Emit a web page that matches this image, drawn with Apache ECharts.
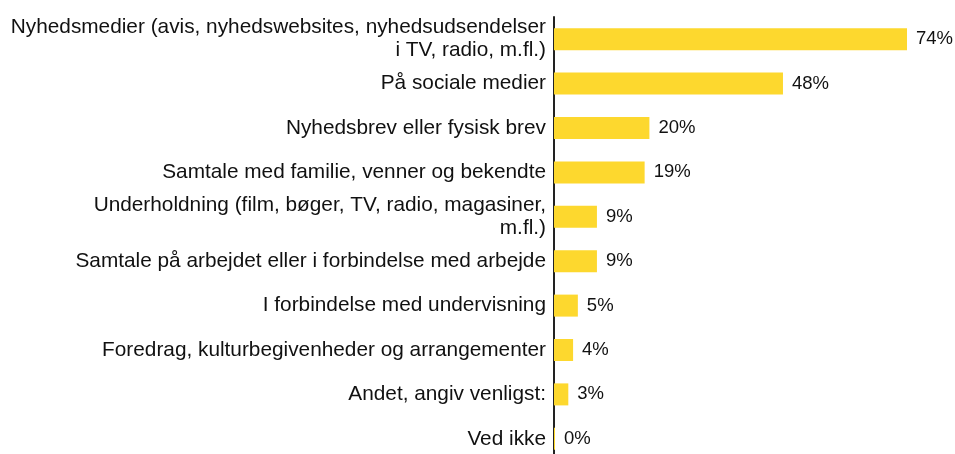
<!DOCTYPE html>
<html>
<head>
<meta charset="utf-8">
<script src="https://cdn.jsdelivr.net/npm/echarts@6/dist/echarts.min.js"></script>
<style>
  html, body { margin: 0; padding: 0; background: #fff; }
  #chart { width: 955px; height: 454px; }
</style>
</head>
<body>
<div id="chart"></div>
<script>
const categories = [
  'Nyhedsmedier (avis, nyhedswebsites, nyhedsudsendelser\ni TV, radio, m.fl.)',
  'På sociale medier',
  'Nyhedsbrev eller fysisk brev',
  'Samtale med familie, venner og bekendte',
  'Underholdning (film, bøger, TV, radio, magasiner,\nm.fl.)',
  'Samtale på arbejdet eller i forbindelse med arbejde',
  'I forbindelse med undervisning',
  'Foredrag, kulturbegivenheder og arrangementer',
  'Andet, angiv venligst:',
  'Ved ikke'
];
const values = [74, 48, 20, 19, 9, 9, 5, 4, 3, 0];

const myChart = echarts.init(document.getElementById('chart'));
const option = {
  animation: false,
  grid: {
    left: 554,
    right: 48,
    top: 17,
    height: 444,
    outerBoundsMode: 'none',
    containLabel: false
  },
  xAxis: {
    type: 'value',
    min: 0,
    max: 74,
    show: false
  },
  yAxis: {
    type: 'category',
    inverse: true,
    data: categories,
    axisLine: { show: true, lineStyle: { color: '#222', width: 2 } },
    axisTick: { show: false },
    axisLabel: {
      color: '#111',
      fontSize: 20.8,
      fontFamily: 'Liberation Sans, Arial, sans-serif',
      lineHeight: 23,
      align: 'right',
      margin: 8,
      padding: [5, 0, 0, 0]
    }
  },
  series: [
    {
      type: 'bar',
      data: values,
      barWidth: 22,
      barMinHeight: 1,
      itemStyle: { color: '#FDD82E' },
      label: {
        show: true,
        position: 'right',
        distance: 9,
        formatter: '{c}%',
        color: '#111',
        fontSize: 18.5,
        fontFamily: 'Liberation Sans, Arial, sans-serif',
        padding: [4, 0, 0, 0]
      }
    }
  ]
};
myChart.setOption(option);
</script>
</body>
</html>
